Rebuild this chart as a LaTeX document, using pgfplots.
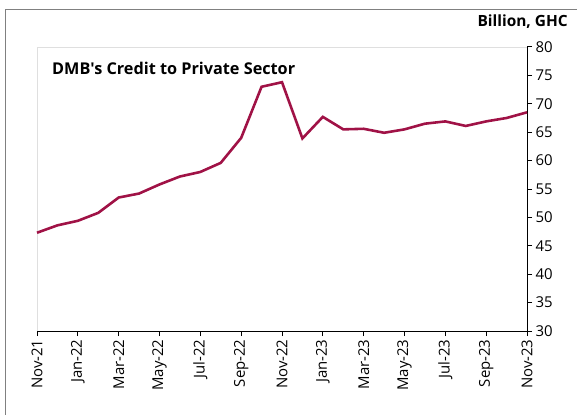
\documentclass[border=0pt]{standalone}
\usepackage{pgfplots}
\pgfplotsset{compat=1.18}
\usepackage{fontspec}
\setmainfont{Open Sans}[Ligatures=TeXOff]
\definecolor{linec}{RGB}{160,18,70}
\begin{document}
\begin{tikzpicture}
\useasboundingbox (-37bp,-84bp) rectangle (540bp,331bp);
\begin{axis}[
  at={(0,0)}, anchor=south west,
  width=490bp, height=284bp, scale only axis,
  xmin=0, xmax=24, ymin=30, ymax=80,
  axis x line*=bottom, axis y line*=right,
  axis line style={black, line width=1pt},
  ytick={30,35,...,80},
  xtick={0,2,...,24},
  xticklabels={Nov-21,Jan-22,Mar-22,May-22,Jul-22,Sep-22,Nov-22,Jan-23,Mar-23,May-23,Jul-23,Sep-23,Nov-23},
  x tick label style={rotate=90, anchor=east, font=\fontsize{15}{16}\selectfont},
  y tick label style={font=\fontsize{15}{16}\selectfont},
  /pgf/number format/assume math mode=true,
  tick align=outside,
  major tick length=5bp,
  tick style={black, line width=1pt},
  clip=false,
]
\draw[gray!25, line width=0.8pt] (rel axis cs:0,0) -- (rel axis cs:0,1) -- (rel axis cs:1,1);
\addplot[linec, line width=2.6pt, no marks] coordinates {
(0,47.3) (1,48.6) (2,49.4) (3,50.8) (4,53.5) (5,54.2) (6,55.8) (7,57.2) (8,58.0) (9,59.6)
(10,64.0) (11,73.0) (12,73.8) (13,63.9) (14,67.7) (15,65.5) (16,65.6) (17,64.9) (18,65.5)
(19,66.5) (20,66.9) (21,66.1) (22,66.9) (23,67.5) (24,68.5)
};
\end{axis}
\draw[gray, line width=0.8pt] (-32bp,-84bp) -- (-32bp,322bp) -- (540bp,322bp);
\node[anchor=east, font=\bfseries\fontsize{15.5}{17}\selectfont, inner sep=0pt] at (531bp,309bp) {Billion, GHC};
\node[anchor=west, font=\bfseries\fontsize{16.3}{18}\selectfont, inner sep=0pt] at (15bp,263bp) {DMB's Credit to Private Sector};
\end{tikzpicture}
\end{document}
